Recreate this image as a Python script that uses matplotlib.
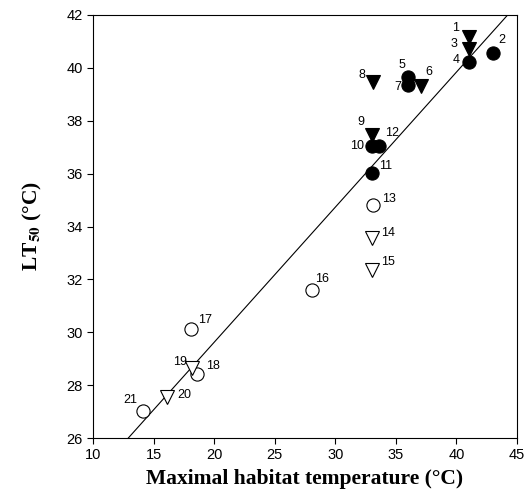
import matplotlib
matplotlib.use("Agg")
import matplotlib.pyplot as plt
import numpy as np

# data
ids = [str(i) for i in range(1, 22)]
habitat_temp = [41, 43, 41, 41, 36, 37.1, 36, 33.1, 33, 33, 33, 33.6, 33.1, 33, 33, 28.1, 18.1, 18.6, 18.2, 16.1, 14.1]
lt50 = [41.17, 40.56, 40.71, 40.22, 39.65, 39.3, 39.35, 39.46, 37.46, 37.04, 36.02, 37.04, 34.81, 33.56, 32.35, 31.6, 30.12, 28.42, 28.65, 27.55, 27.02]
# marker types: 'tf' filled triangle, 'cf' filled circle, 'co' open circle, 'to' open triangle
kinds = ['tf', 'cf', 'tf', 'cf', 'cf', 'tf', 'cf', 'tf', 'tf', 'cf', 'cf', 'cf', 'co', 'to', 'to', 'co', 'co', 'co', 'to', 'to', 'co']
fit_slope = 0.511
fit_intercept = 19.4
xticks = [10, 15, 20, 25, 30, 35, 40, 45]
yticks = [26, 28, 30, 32, 34, 36, 38, 40, 42]

# label offsets (pixels, style only)
label_offsets = [(-13, 9), (9, 13), (-15, 5), (-12, 2), (-6, 12), (8, 14), (-10, -2), (-11, 7),
                 (-11, 13), (-15, 0), (14, 7), (13, 13), (16, 6), (16, 5), (16, 8), (10, 11),
                 (14, 9), (16, 8), (-12, 6), (17, 2), (-12, 11)]

plt.rcParams['font.family'] = ['Liberation Sans', 'DejaVu Sans']
plt.rcParams['mathtext.fontset'] = 'stix'
fig = plt.figure(figsize=(5.27, 4.99), dpi=100)
ax = fig.add_axes([93/527, 1-438/499, (517-93)/527, (438-15)/499])

xs = np.array([10, 45])
ax.plot(xs, fit_intercept + fit_slope*xs, color='black', lw=0.8, zorder=1)

styles = {
    'tf': dict(marker='v', mfc='black', mec='black'),
    'cf': dict(marker='o', mfc='black', mec='black'),
    'co': dict(marker='o', mfc='white', mec='black'),
    'to': dict(marker='v', mfc='white', mec='black'),
}
for x, y, k in zip(habitat_temp, lt50, kinds):
    ax.plot([x], [y], linestyle='none', ms=9.5, mew=0.8, zorder=3, **styles[k])

for lab, x, y, (dx, dy) in zip(ids, habitat_temp, lt50, label_offsets):
    ax.annotate(lab, (x, y), xytext=(dx*0.72, dy*0.72), textcoords='offset points',
                ha='center', va='center', fontsize=9, zorder=4)

ax.set_xlim(10, 45)
ax.set_ylim(26, 42)
ax.set_xticks(xticks)
ax.set_yticks(yticks)
ax.tick_params(direction='out', length=4, width=0.8, labelsize=10.5)
for s in ax.spines.values():
    s.set_linewidth(0.8)

ax.set_xlabel('Maximal habitat temperature (°C)', family=['Liberation Serif', 'DejaVu Serif'],
              fontweight='bold', fontsize=15.5, labelpad=5)
ax.set_ylabel(r'LT$_{\mathbf{50}}$ (°C)', family=['Liberation Serif', 'DejaVu Serif'],
              fontweight='bold', fontsize=15.5, labelpad=16)

fig.savefig('out.png', dpi=100)
